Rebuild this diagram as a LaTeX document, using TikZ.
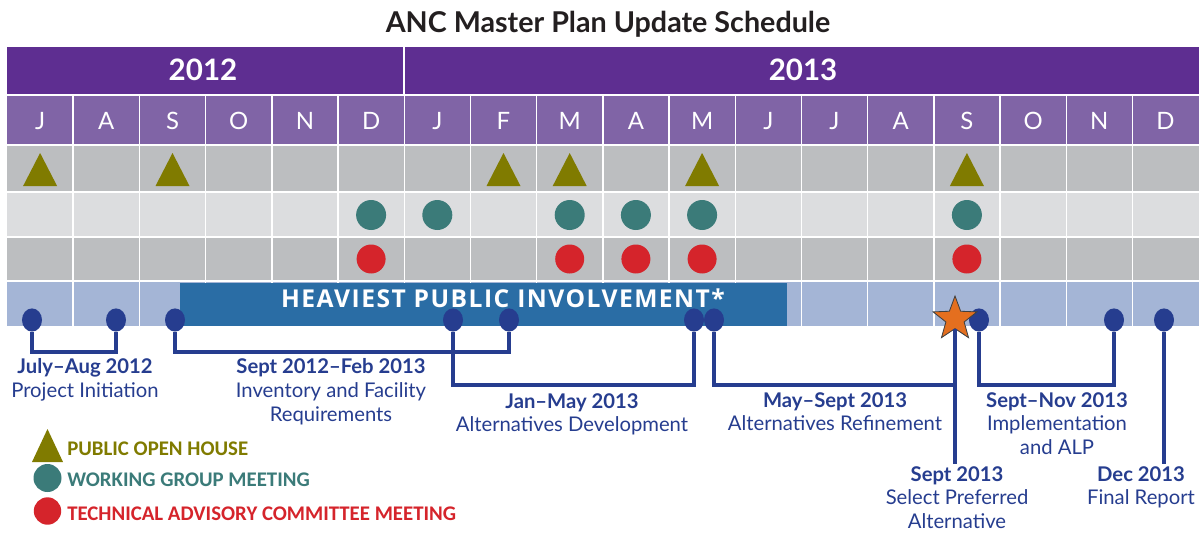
\documentclass[tikz,border=0pt]{standalone}
\usepackage{fontspec}
\setmainfont{Lato}
\newfontfamily\legendfont{Carlito}
\newfontfamily\bannerfont[LetterSpace=6]{Open Sans}
\usetikzlibrary{calc,shapes.geometric}
\definecolor{yearpurple}{HTML}{5E2E91}
\definecolor{monthpurple}{HTML}{8064A6}
\definecolor{rowgray}{HTML}{BCBEC0}
\definecolor{rowlight}{HTML}{DCDDDF}
\definecolor{rowblue}{HTML}{A4B5D6}
\definecolor{bannerblue}{HTML}{2A6DA5}
\definecolor{molive}{HTML}{807B00}
\definecolor{mteal}{HTML}{3B7B79}
\definecolor{tacred}{HTML}{D5242B}
\definecolor{pinblue}{HTML}{263D8F}
\definecolor{starorange}{HTML}{E46F1F}
\definecolor{titleink}{HTML}{231F20}
\begin{document}
\begin{tikzpicture}[x=0.025cm,y=-0.025cm,every node/.style={inner sep=0pt},
   gridline/.style={draw=white,line width=1pt},
   monthtxt/.style={text=white,font=\fontsize{17}{20}\selectfont},
   yeartxt/.style={text=white,font=\fontsize{21}{24}\selectfont\bfseries},
   phasedot/.style={ellipse,fill=pinblue,minimum width=0.5cm,minimum height=0.58cm},
   phaseline/.style={draw=pinblue,line width=3.3pt},
   datetxt/.style={anchor=north,align=center,text=pinblue,font=\fontsize{14.4}{17}\selectfont},
   legendtxt/.style={anchor=base west,font=\legendfont\fontsize{14.8}{17}\selectfont\bfseries}]
\useasboundingbox (0,0) rectangle (1201,533);
% title
\node[text=titleink,font=\fontsize{20.4}{23}\selectfont\bfseries] (title) at (608,24) {ANC Master Plan Update Schedule};
% rows of the chart
\fill[yearpurple]  (7,47)  rectangle (1199,95);
\fill[monthpurple] (7,95)  rectangle (1199,145);
\fill[rowgray]     (7,145) rectangle (1199,192);
\fill[rowlight]    (7,192) rectangle (1199,237);
\fill[rowgray]     (7,237) rectangle (1199,281);
\fill[rowblue]     (7,281) rectangle (1199,326);
\foreach \k in {1,...,17} \draw[gridline] ({7+66.2*\k},95) -- ({7+66.2*\k},326);
\foreach \yy in {95,145,192,237,281} \draw[gridline] (7,\yy) -- (1199,\yy);
\draw[gridline] (404,47) -- (404,95);
\node[yeartxt] (y2012) at (203,70) {2012};
\node[yeartxt] (y2013) at (803,70) {2013};
\foreach \m [count=\i from 0] in {J,A,S,O,N,D,J,F,M,A,M,J,J,A,S,O,N,D}
  \node[monthtxt] (m\i) at ({40.1+66.2*\i},121) {\m};
% events
\foreach \c in {0,2,7,8,10,14}
  \fill[molive] ({40.1+66.2*\c-17},186) -- ({40.1+66.2*\c+17},186) -- ({40.1+66.2*\c},153) -- cycle;
\foreach \c in {5,6,8,9,10,14} \fill[mteal] ({40.1+66.2*\c},215) circle (15);
\foreach \c in {5,8,9,10,14} \fill[tacred] ({40.1+66.2*\c},259) circle (14.5);
% heaviest involvement banner
\fill[bannerblue] (180,283) rectangle (787,326);
\node[text=white,font=\bannerfont\fontsize{17.5}{20}\selectfont\bfseries] (heavy) at (503,298) {HEAVIEST PUBLIC INVOLVEMENT*};
% phase markers
\coordinate (lvlA) at (0,352);
\coordinate (lvlB) at (0,385);
\coordinate (lvlC) at (0,464);
\node[phasedot] (p1)  at (32,320) {};
\node[phasedot] (p2)  at (116,320) {};
\node[phasedot] (p3)  at (175,320) {};
\node[phasedot] (p4)  at (453,320) {};
\node[phasedot] (p5)  at (509,320) {};
\node[phasedot] (p6)  at (694,320) {};
\node[phasedot] (p7)  at (714,320) {};
\node[phasedot] (p8)  at (979,320) {};
\node[phasedot] (p9)  at (1114,320) {};
\node[phasedot] (p10) at (1164,320) {};
\node[star,star points=5,star point ratio=2.4,minimum size=1.15cm,fill=starorange,draw=darkgray,line width=0.6pt] (pick) at (955,319) {};
% brackets
\draw[phaseline] (p1.south) |- (p2 |- lvlA) -- (p2.south);
\draw[phaseline] (p3.south) |- (p5 |- lvlA) -- (p5.south);
\draw[phaseline] (p4.south) |- (p6 |- lvlB) -- (p6.south);
\draw[phaseline] (p7.south) |- (pick |- lvlB);
\draw[phaseline] (pick.south) -- (pick |- lvlC);
\draw[phaseline] (p8.south) |- (p9 |- lvlB) -- (p9.south);
\draw[phaseline] (p10.south) -- (p10 |- lvlC);
% phase labels
\node[datetxt] (init) at (85,358)  {\textbf{July–Aug 2012}\\Project Initiation};
\node[datetxt] (inv)  at (331,358) {\textbf{Sept 2012–Feb 2013}\\Inventory and Facility\\Requirements};
\node[datetxt] (dev)  at (572,393) {\textbf{Jan–May 2013}\\Alternatives Development};
\node[datetxt] (ref)  at (835,392) {\textbf{May–Sept 2013}\\Alternatives Refinement};
\node[datetxt] (sel)  at (957,466) {\textbf{Sept 2013}\\Select Preferred\\Alternative};
\node[datetxt] (impl) at (1057,392) {\textbf{Sept–Nov 2013}\\Implementation\\and ALP};
\node[datetxt] (fin)  at (1141,466) {\textbf{Dec 2013}\\Final Report};
% legend
\fill[molive] (32,462) -- (63,462) -- (47.5,429) -- cycle;
\fill[mteal] (47.5,478) circle (14);
\fill[tacred] (47.5,511) circle (13.7);
\node[legendtxt,text=molive] (lg1) at (67,455) {PUBLIC OPEN HOUSE};
\node[legendtxt,text=mteal]  (lg2) at (67,486) {WORKING GROUP MEETING};
\node[legendtxt,text=tacred] (lg3) at (67,520) {TECHNICAL ADVISORY COMMITTEE MEETING};
\end{tikzpicture}
\end{document}
